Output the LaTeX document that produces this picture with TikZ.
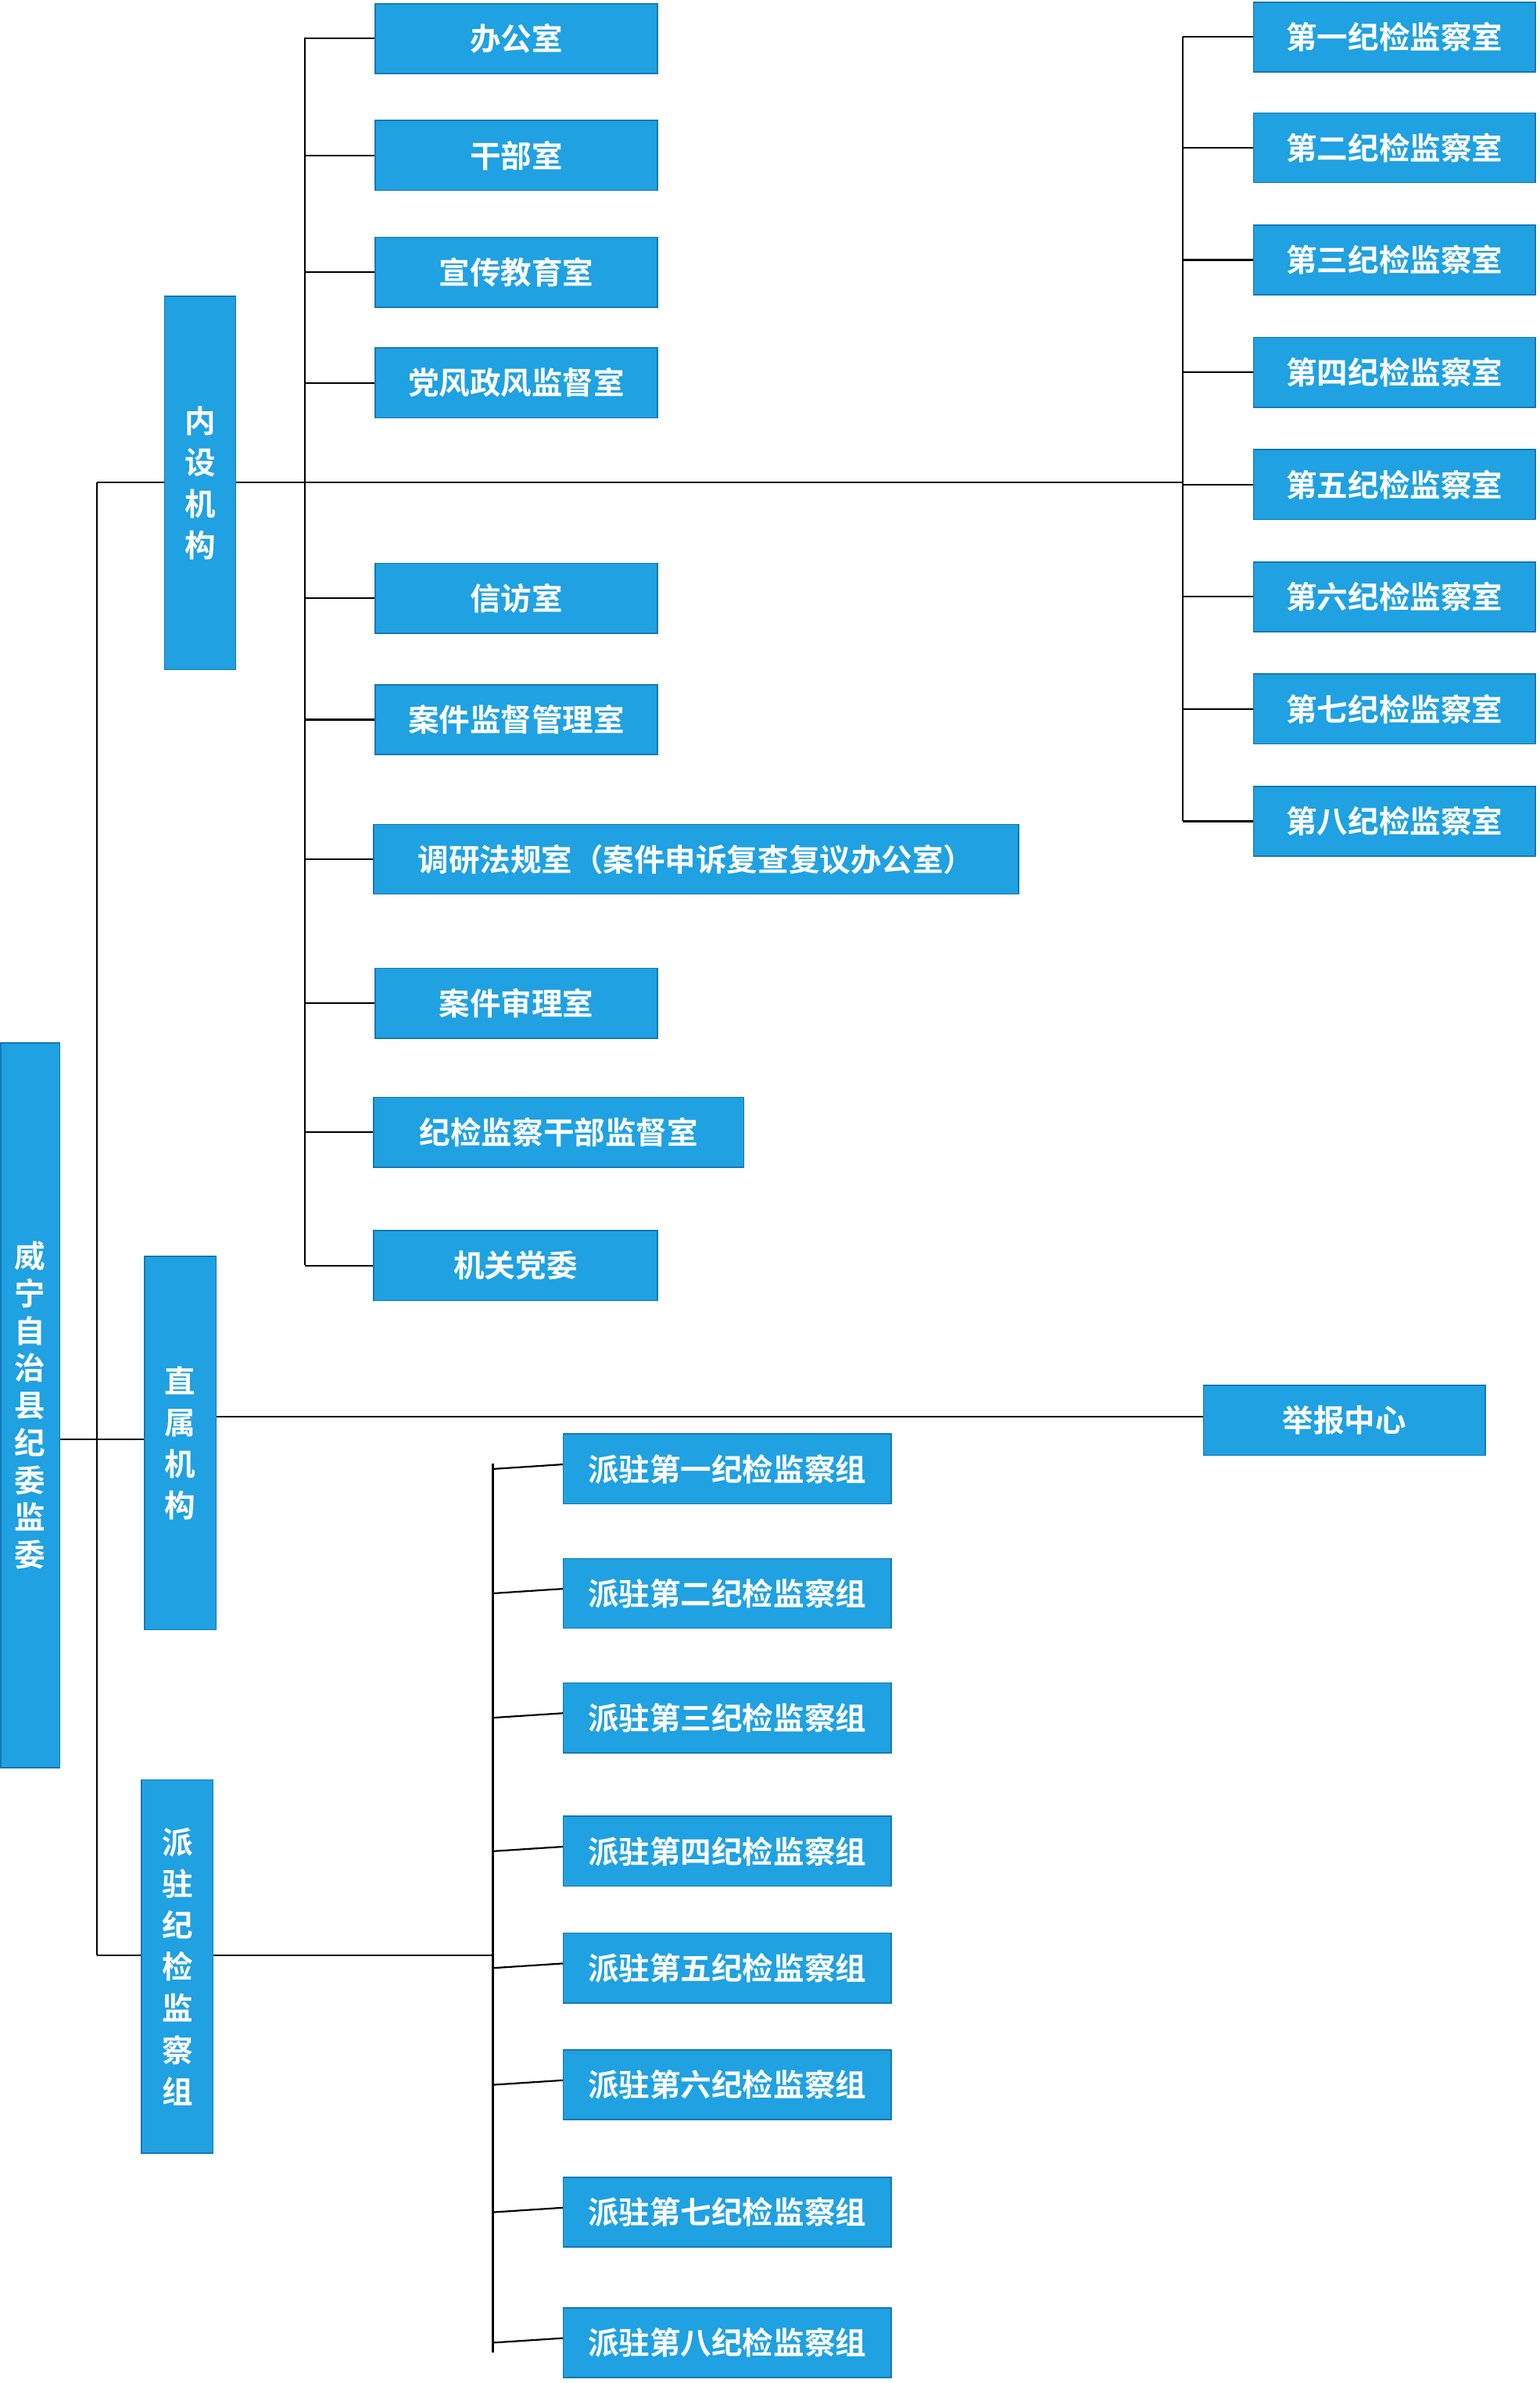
\documentclass[tikz,border=0pt]{standalone}
\usepackage{fontspec}
\newfontfamily\cjk{Noto Sans CJK SC Bold}
\definecolor{bfill}{HTML}{1FA1E2}
\definecolor{bdraw}{HTML}{1677B5}
\begin{document}
\begin{tikzpicture}[x=0.05cm,y=-0.05cm,
 box/.style={draw=bdraw,line width=1.2pt,fill=bfill,text=white,font=\cjk\fontsize{29}{34}\selectfont,inner sep=0pt,anchor=north west},
 vbox/.style={box,align=center,font=\cjk\fontsize{29}{39}\selectfont},
 ln/.style={line width=1.6pt,black}]
\useasboundingbox (0,0) rectangle (1015,1571);
\fill[white] (0,0) rectangle (1015,1571);
% helper macro
\newcommand{\hb}[6]{\node[box,minimum width=#4*0.05cm-#2*0.05cm,minimum height=#5*0.05cm-#3*0.05cm] (#1) at (#2,#3) {#6};}
\hb{a1}{247}{2}{433}{48}{办公室}
\hb{a2}{247}{79}{433}{125}{干部室}
\hb{a3}{247}{156}{433}{202}{宣传教育室}
\hb{a4}{247}{229}{433}{275}{党风政风监督室}
\hb{a5}{247}{371}{433}{417}{信访室}
\hb{a6}{247}{451}{433}{497}{案件监督管理室}
\hb{a7}{246}{543}{671}{589}{调研法规室（案件申诉复查复议办公室）}
\hb{a8}{247}{638}{433}{684}{案件审理室}
\hb{a9}{246}{723}{490}{769}{纪检监察干部监督室}
\hb{a10}{246}{811}{433}{857}{机关党委}
\hb{r1}{826}{1}{1012}{47}{第一纪检监察室}
\hb{r2}{826}{74}{1012}{120}{第二纪检监察室}
\hb{r3}{826}{148}{1012}{194}{第三纪检监察室}
\hb{r4}{826}{222}{1012}{268}{第四纪检监察室}
\hb{r5}{826}{296}{1012}{342}{第五纪检监察室}
\hb{r6}{826}{370}{1012}{416}{第六纪检监察室}
\hb{r7}{826}{444}{1012}{490}{第七纪检监察室}
\hb{r8}{826}{518}{1012}{564}{第八纪检监察室}
\hb{jb}{793}{913}{979}{959}{举报中心}
\hb{p1}{371}{945}{587}{991}{派驻第一纪检监察组}
\hb{p2}{371}{1027}{587}{1073}{派驻第二纪检监察组}
\hb{p3}{371}{1109}{587}{1155}{派驻第三纪检监察组}
\hb{p4}{371}{1197}{587}{1243}{派驻第四纪检监察组}
\hb{p5}{371}{1274}{587}{1320}{派驻第五纪检监察组}
\hb{p6}{371}{1351}{587}{1397}{派驻第六纪检监察组}
\hb{p7}{371}{1435}{587}{1481}{派驻第七纪检监察组}
\hb{p8}{371}{1521}{587}{1567}{派驻第八纪检监察组}
\node[vbox,minimum width=47*0.05cm,minimum height=246*0.05cm] (ns) at (108,195) {内\\设\\机\\构};
\node[vbox,minimum width=47*0.05cm,minimum height=246*0.05cm] (zs) at (95,828) {直\\属\\机\\构};
\node[vbox,minimum width=47*0.05cm,minimum height=246*0.05cm] (pz) at (93,1173) {派\\驻\\纪\\检\\监\\察\\组};
\node[vbox,font=\cjk\fontsize{29}{35}\selectfont,minimum width=39*0.05cm,minimum height=478*0.05cm] (root) at (0,687) {威\\宁\\自\\治\\县\\纪\\委\\监\\委};
% connectors
\coordinate (t1) at (64,318); \coordinate (t2) at (64,1289);
\draw[ln] (root.east |- 0,949) -- (zs.west |- 0,949);
\draw[ln] (t1) -- (t2);
\draw[ln] (t1) -- (ns.west |- t1);
\draw[ln] (t2) -- (pz.west |- t2);
\draw[ln] (ns.east |- t1) -- (780,318);
\draw[ln] (201,25) -- (201,834);
\foreach \n in {a1,a2,a3,a4,a5,a6,a7,a8,a9,a10} \draw[ln] (\n.west) -- (\n.west -| 201,0);
\draw[ln] (780,24) -- (780,541);
\foreach \n in {r1,r2,r3,r4,r5,r6,r7,r8} \draw[ln] (\n.west) -- (\n.west -| 780,0);
\draw[ln] (zs.east |- 0,934) -- (jb.west |- 0,934);
\draw[ln] (pz.east |- t2) -- (325,1289);
\draw[ln] (325,965) -- (325,1551);
\foreach \n in {p1,p2,p3,p4,p5,p6,p7,p8} \draw[ln] (\n.west) ++(0,-3) -- (325,0 |- \n.west);
\end{tikzpicture}
\end{document}
